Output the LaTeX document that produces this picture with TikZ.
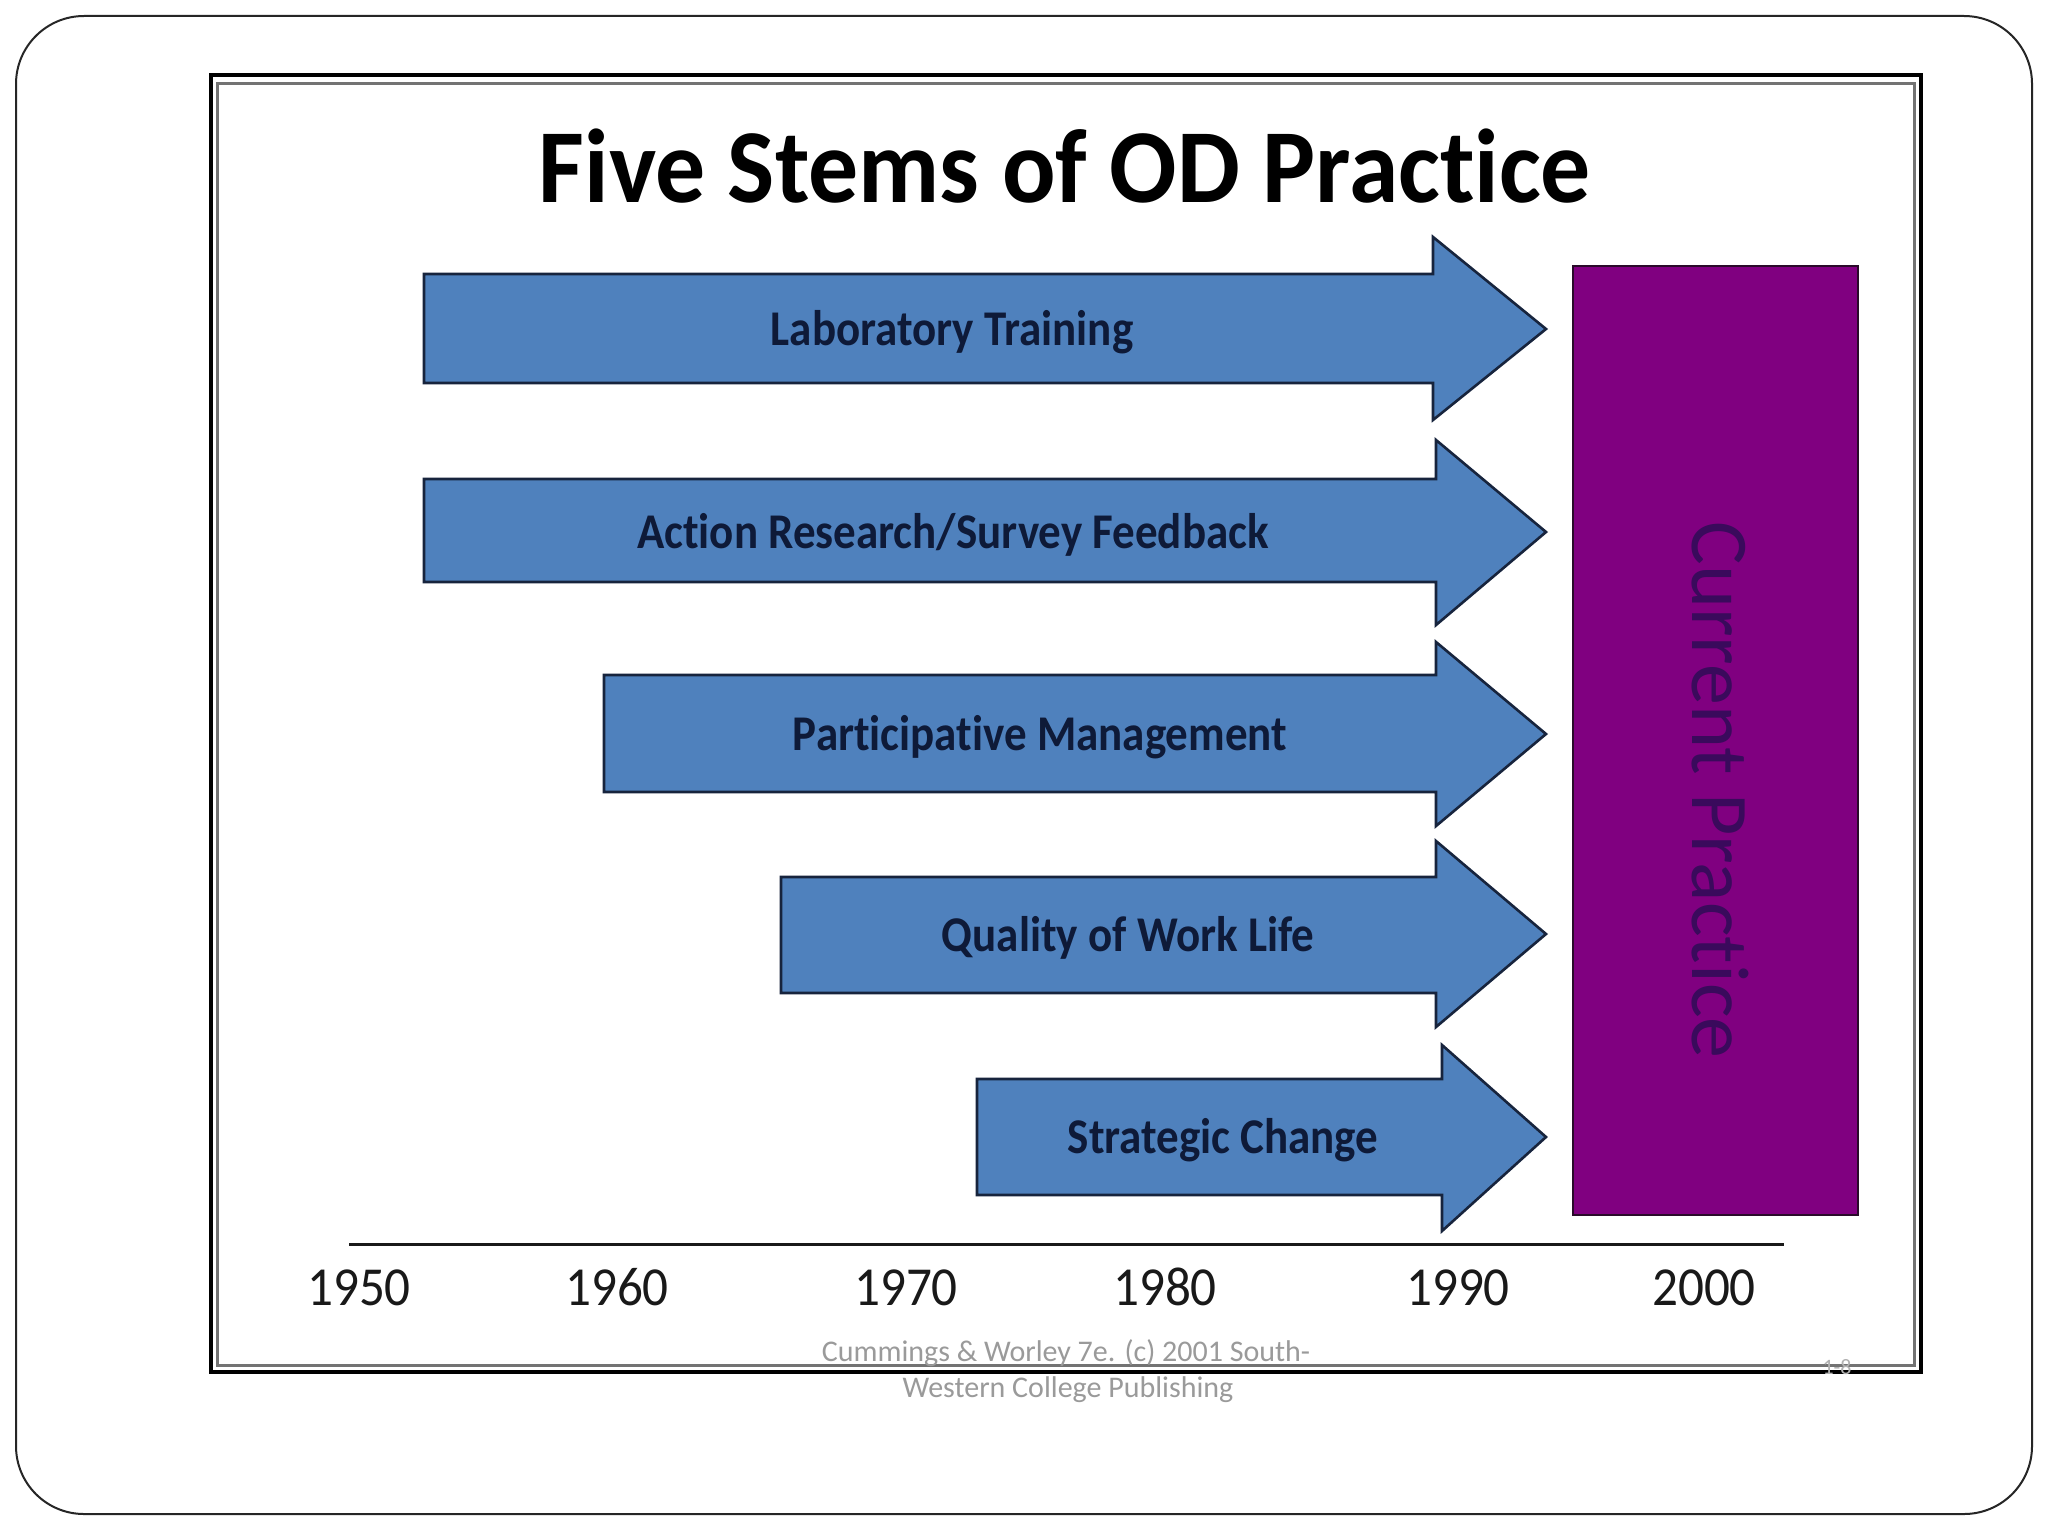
\documentclass[tikz,border=0pt]{standalone}
\usepackage{fontspec}
\setmainfont{Carlito}[Ligatures=NoCommon]
\usepackage{graphicx}
\definecolor{arrowblue}{HTML}{4F81BD}
\definecolor{arrowedge}{HTML}{17243D}
\definecolor{labelnavy}{HTML}{0E1A38}
\definecolor{practicepurple}{HTML}{800080}
\definecolor{practiceedge}{HTML}{2A0A2A}
\definecolor{practicetext}{HTML}{3A0A5C}
\definecolor{footgray}{HTML}{9A9A9A}
\newcommand{\hsq}[2]{\scalebox{#1}[1]{#2}}
\tikzset{
  stemarrow/.style={fill=arrowblue, draw=arrowedge, line width=1.3pt, line join=miter},
  stemlabel/.style={anchor=base, inner sep=0pt, text=labelnavy, font=\fontsize{25pt}{30pt}\selectfont\bfseries},
  yearlabel/.style={anchor=base, inner sep=0pt, text=black!90, font=\fontsize{27.5pt}{32pt}\selectfont},
  footlabel/.style={anchor=base, inner sep=0pt, text=footgray, font=\fontsize{15pt}{18pt}\selectfont},
}
\begin{document}
\begin{tikzpicture}[x=0.5pt, y=-0.5pt]
\useasboundingbox (0,0) rectangle (2048,1536);
\fill[white] (0,0) rectangle (2048,1536);
% slide outline
\draw[black!85, line width=1pt, rounded corners=34pt] (16,16) rectangle (2032,1514);
% picture frame
\draw[black, line width=2pt] (211,75.5) rectangle (1920.5,1371.5);
\draw[black!55, line width=1.5pt] (217.5,84) rectangle (1914,1365);
% title
\node[anchor=base, inner sep=0pt, font=\fontsize{52.5pt}{60pt}\selectfont\bfseries] (title) at (1065,202) {\hsq{0.95}{Five Stems of OD Practice}};
% current practice box
\draw[fill=practicepurple, draw=practiceedge, line width=1pt] (1573,266) rectangle (1858,1215);
\node[rotate=-90, anchor=base west, inner sep=0pt, text=practicetext, font=\fontsize{41pt}{48pt}\selectfont] (cur) at (1692,521) {Current Practice};
% arrows
\draw[stemarrow] (424,274) -- (1433,274) -- (1433,237) -- (1546,329) -- (1433,420) -- (1433,383) -- (424,383) -- cycle;
\draw[stemarrow] (424,479) -- (1436,479) -- (1436,440) -- (1546,532) -- (1436,625) -- (1436,582) -- (424,582) -- cycle;
\draw[stemarrow] (604,675) -- (1436,675) -- (1436,642) -- (1546,734) -- (1436,826) -- (1436,792) -- (604,792) -- cycle;
\draw[stemarrow] (781,877) -- (1436,877) -- (1436,841) -- (1546,934) -- (1436,1027) -- (1436,993) -- (781,993) -- cycle;
\draw[stemarrow] (977,1079) -- (1442,1079) -- (1442,1045) -- (1546,1137) -- (1442,1231) -- (1442,1195) -- (977,1195) -- cycle;
\node[stemlabel] (lab) at (952,345) {\hsq{0.9}{Laboratory Training}};
\node[stemlabel] (act) at (953,548) {\hsq{0.9}{Action Research/Survey Feedback}};
\node[stemlabel] (par) at (1040,750) {\hsq{0.9}{Participative Management}};
\node[stemlabel] (qwl) at (1128,951) {\hsq{0.9}{Quality of Work Life}};
\node[stemlabel] (stc) at (1223,1153) {\hsq{0.9}{Strategic Change}};
% time axis
\coordinate (ax1) at (349,1244);
\coordinate (ax2) at (1784,1244);
\draw[black!90, line width=1.5pt] (ax1) -- (ax2);
\node[yearlabel] (y1950) at (359,1305) {\hsq{0.93}{1950}};
\node[yearlabel] (y1960) at (617,1305) {\hsq{0.93}{1960}};
\node[yearlabel] (y1970) at (906,1305) {\hsq{0.93}{1970}};
\node[yearlabel] (y1980) at (1165,1305) {\hsq{0.93}{1980}};
\node[yearlabel] (y1990) at (1458,1305) {\hsq{0.93}{1990}};
\node[yearlabel] (y2000) at (1704,1305) {\hsq{0.93}{2000}};
% footer
\node[footlabel] (foot1) at (1066,1361) {Cummings \& Worley 7e. (c) 2001 South-};
\node[footlabel] (foot2) at (1068,1397) {Western College Publishing};
\node[footlabel, text=black!30, font=\fontsize{11pt}{13pt}\selectfont] (pg) at (1837,1374) {1-8};
\end{tikzpicture}
\end{document}
